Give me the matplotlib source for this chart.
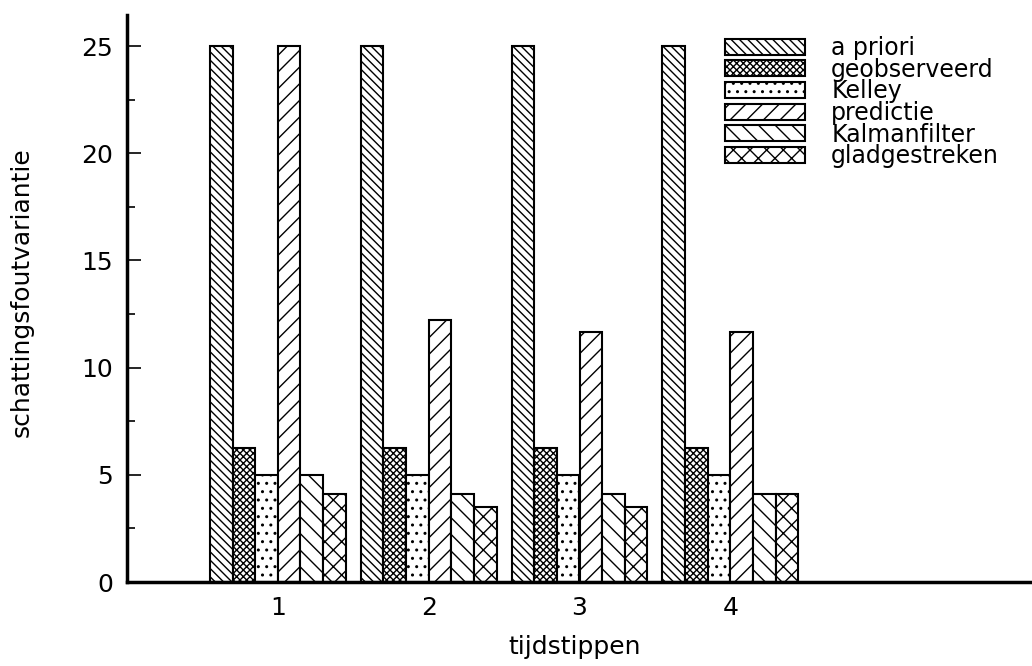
import numpy as np
import matplotlib
matplotlib.use('Agg')
import matplotlib.pyplot as plt

# values
tijdstippen = [1, 2, 3, 4]
series = ['a priori', 'geobserveerd', 'Kelley', 'predictie', 'Kalmanfilter', 'gladgestreken']
a_priori = [25, 25, 25, 25]
geobserveerd = [6.25, 6.25, 6.25, 6.25]
kelley = [5.0, 5.0, 5.0, 5.0]
predictie = [25, 12.2, 11.65, 11.65]
kalmanfilter = [5.0, 4.1, 4.1, 4.1]
gladgestreken = [4.1, 3.5, 3.5, 4.1]

values = [a_priori, geobserveerd, kelley, predictie, kalmanfilter, gladgestreken]
hatches = ['\\\\\\\\', 'xxxxx', '..', '//', '\\\\', 'xx']

plt.rcParams['hatch.linewidth'] = 1.0
plt.rcParams['font.family'] = 'DejaVu Sans'

W, H = 1032, 666
x0, y0, ytop = 127, 582, 15  # axes corners in pixels
fig = plt.figure(figsize=(W / 100, H / 100), dpi=100)
ax = fig.add_axes([x0 / W, 1 - y0 / H, 1 - x0 / W, (y0 - ytop) / H])

width = 0.15
x = np.array(tijdstippen, dtype=float)
for i, (name, vals, h) in enumerate(zip(series, values, hatches)):
    offs = (i - 2.5) * width
    ax.bar(x + offs, vals, width, facecolor='white', edgecolor='black',
           hatch=h, linewidth=1.5, label=name)

ax.set_xlim(0, 6)
ax.set_ylim(0, 26.45)
ax.set_xticks(tijdstippen)
ax.set_yticks([0, 5, 10, 15, 20, 25])
ax.set_yticks(np.arange(2.5, 25, 5), minor=True)
ax.tick_params(axis='x', length=0, labelsize=18, pad=10)
ax.tick_params(axis='y', which='major', direction='in', length=10, width=1.2, labelsize=18, pad=10)
ax.tick_params(axis='y', which='minor', direction='in', length=6, width=1.2)
for s in ['top', 'right']:
    ax.spines[s].set_visible(False)
ax.spines['left'].set_linewidth(2.5)
ax.spines['bottom'].set_linewidth(2.5)

aw, ah = W - x0, y0 - ytop
ax.set_xlabel('tijdstippen', fontsize=18)
ax.set_ylabel('schattingsfoutvariantie', fontsize=18)
ax.xaxis.set_label_coords((575 - x0) / aw, (y0 - 635) / ah)
ax.yaxis.set_label_coords((34 - x0) / aw, (y0 - 292) / ah)

fig.legend(loc='upper left', bbox_to_anchor=(725 / W, 1 - 36 / H), frameon=False, fontsize=17,
           handlelength=3.4, handleheight=0.68, labelspacing=-0.1, handletextpad=1.1,
           borderpad=0.0, borderaxespad=0.0)

fig.savefig('out.png', dpi=100)
